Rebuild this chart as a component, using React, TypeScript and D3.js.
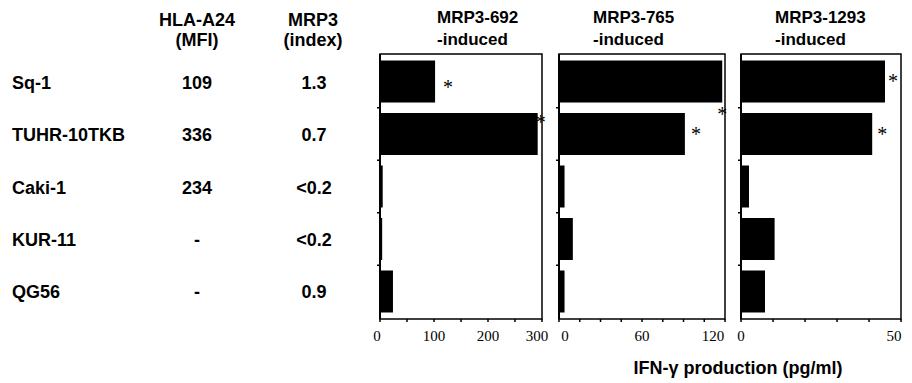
import React from "react";
import * as d3 from "d3";

const cellLines = ["Sq-1", "TUHR-10TKB", "Caki-1", "KUR-11", "QG56"];
const hlaA24 = ["109", "336", "234", "-", "-"];
const mrp3Index = ["1.3", "0.7", "<0.2", "<0.2", "0.9"];

const titles = ["MRP3-692", "MRP3-765", "MRP3-1293"];
const ifn692 = [102, 292, 5, 4, 24];
const ifn765 = [118, 91, 4, 10, 4];
const ifn1293 = [45, 41, 2.5, 10.5, 7.5];
const domains = [300, 120, 50];
const majorTicks = [[0, 100, 200, 300], [0, 60, 120], [0, 50]];
const minorStep = [50, 15, 10];
const significant = [
  [true, true, false, false, false],
  [true, true, false, false, false],
  [true, true, false, false, false],
];
const axisTitle = "IFN-\u03b3 production (pg/ml)";

// layout
const W = 912, H = 383;
const top = 54, bottom = 319;
const panelX = [[380, 542], [559, 725], [741, 901]];
const titleX = [437, 593, 775];
// horizontal nudges of first / last tick labels
const firstLabelDx = [-3, 6, 0];
const lastLabelDx = [-5, -12, -7];
// asterisk offsets relative to bar end / band center
const starOff = [
  [[13, 2], [3, -15], [0, 0], [0, 0], [0, 0]],
  [[0, 29], [11, -3], [0, 0], [0, 0], [0, 0]],
  [[8, -4], [10, -3], [0, 0], [0, 0], [0, 0]],
];

const sans = "'Liberation Sans', Arial, Helvetica, sans-serif";
const serif = "'Liberation Serif', 'Times New Roman', serif";

export default function App() {
  const series = [ifn692, ifn765, ifn1293];
  const y = d3.scaleBand<string>().domain(cellLines).range([top, bottom]).paddingInner(0.2).paddingOuter(0.124);
  return (
    <svg width={W} height={H} style={{ position: "absolute", left: 0, top: 0, background: "#fff" }}>
      {/* column headers */}
      <g fontFamily={sans} fontWeight="bold" fontSize={18} fill="#000" textAnchor="middle">
        <text x={197} y={26}>HLA-A24</text>
        <text x={197} y={46}>(MFI)</text>
        <text x={313} y={26}>MRP3</text>
        <text x={313} y={46}>(index)</text>
      </g>
      {/* row labels and table values */}
      <g fontFamily={sans} fontWeight="bold" fontSize={18} fill="#000">
        {cellLines.map((c, i) => {
          const cy = (y(c) as number) + y.bandwidth() / 2 + 7;
          return (
            <g key={c}>
              <text x={12} y={cy}>{c}</text>
              <text x={197} y={cy} textAnchor="middle">{hlaA24[i]}</text>
              <text x={314} y={cy} textAnchor="middle">{mrp3Index[i]}</text>
            </g>
          );
        })}
      </g>
      {series.map((vals, p) => {
        const [x0, x1] = panelX[p];
        const x = d3.scaleLinear().domain([0, domains[p]]).range([x0, x1]);
        const minors = d3.range(0, domains[p] + 1e-9, minorStep[p]);
        const bounds = cellLines.slice(1).map((c) => (y(c) as number) - (y.step() - y.bandwidth()) / 2);
        const mt = majorTicks[p];
        return (
          <g key={p}>
            <g fontFamily={sans} fontWeight="bold" fontSize={17} fill="#000">
              <text x={titleX[p]} y={23}>{titles[p]}</text>
              <text x={titleX[p]} y={45}>-induced</text>
            </g>
            {vals.map((v, i) => (
              <rect key={i} x={x(0)} y={y(cellLines[i])} width={x(v) - x(0)} height={y.bandwidth()} fill="#000" />
            ))}
            {vals.map((v, i) =>
              significant[p][i] ? (
                <text key={"s" + i} x={x(v) + starOff[p][i][0]} y={(y(cellLines[i]) as number) + y.bandwidth() / 2 + starOff[p][i][1] + 10}
                  fontFamily={serif} fontSize={20} textAnchor="middle" fill="#000">*</text>
              ) : null
            )}
            <rect x={x0} y={top} width={x1 - x0} height={bottom - top} fill="none" stroke="#000" strokeWidth={1.5} />
            <line x1={x0} x2={x0} y1={top} y2={bottom} stroke="#000" strokeWidth={2} />
            {bounds.map((b, i) => (
              <line key={"lt" + i} x1={x0 - 3} x2={x0} y1={b} y2={b} stroke="#000" strokeWidth={1.5} />
            ))}
            {minors.map((m, i) => (
              <line key={"mt" + i} x1={x(m)} x2={x(m)} y1={bottom} y2={bottom + 3} stroke="#000" strokeWidth={1.5} />
            ))}
            <g fontFamily={serif} fontSize={15} fill="#000" textAnchor="middle">
              {mt.map((t, k) => (
                <text key={t} x={x(t) + (k === 0 ? firstLabelDx[p] : k === mt.length - 1 ? lastLabelDx[p] : 0)} y={341}>{t}</text>
              ))}
            </g>
          </g>
        );
      })}
      <text x={738} y={374} fontFamily={sans} fontWeight="bold" fontSize={18} textAnchor="middle" fill="#000">{axisTitle}</text>
    </svg>
  );
}
